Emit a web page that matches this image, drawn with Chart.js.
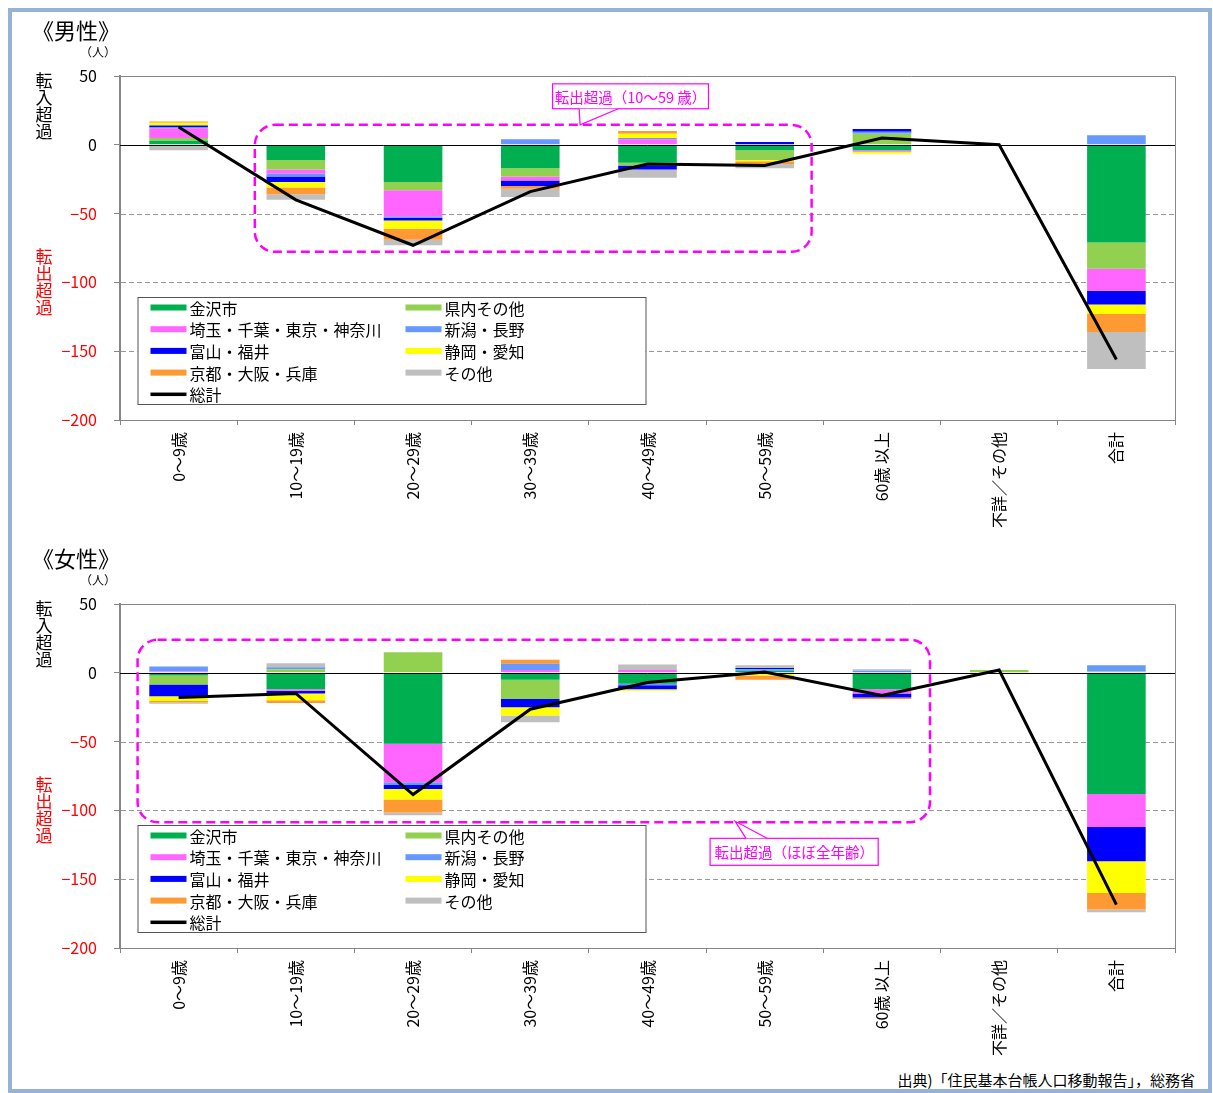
<!DOCTYPE html>
<html lang="ja">
<head>
<meta charset="utf-8">
<script src="https://cdn.jsdelivr.net/npm/chart.js@4/dist/chart.umd.min.js"></script>
<style>
  html, body { margin: 0; padding: 0; background: #fff; }
  body { width: 1213px; height: 1093px; position: relative; overflow: hidden;
         font-family: 'Noto Sans CJK JP', sans-serif; color: #000; }
  .frame { position: absolute; left: 8px; top: 8px; width: 1204px; height: 1085px;
           border: 4px solid #95B3D7; box-sizing: border-box; }
  .panel { position: absolute; left: 0; width: 1213px; height: 540px; }
  .title { position: absolute; left: 32px; font-size: 22px; line-height: 22px; white-space: nowrap; z-index: 2; }
  .unit { position: absolute; left: 80px; font-size: 12px; line-height: 12px; white-space: nowrap; z-index: 2; }
  .vt { position: absolute; left: 35px; width: 18px; font-size: 17px; line-height: 17px;
        text-align: center; z-index: 2; }
  .red { color: #FF0000; }
  .src { position: absolute; right: 18px; top: 1069px; font-size: 15px; white-space: nowrap; z-index: 2; }
</style>
</head>
<body>
<div class="frame"></div>

<div class="panel" style="top:0"><canvas id="male" width="1213" height="540"></canvas></div>
<div class="panel" style="top:528px"><canvas id="female" width="1213" height="540"></canvas></div>

<div class="title" style="top:18px">《男性》</div>
<div class="unit" style="top:46px">（人）</div>
<div class="vt" style="top:71px">転<br>入<br>超<br>過</div>
<div class="vt red" style="top:247px">転<br>出<br>超<br>過</div>

<div class="title" style="top:546px">《女性》</div>
<div class="unit" style="top:574px">（人）</div>
<div class="vt" style="top:599px">転<br>入<br>超<br>過</div>
<div class="vt red" style="top:775px">転<br>出<br>超<br>過</div>

<div class="src">出典)「住民基本台帳人口移動報告」，総務省</div>

<script>
// Age groups on the x axis
const categories = ['0〜9歳', '10〜19歳', '20〜29歳', '30〜39歳', '40〜49歳',
                    '50〜59歳', '60歳 以上', '不詳／その他', '合計'];

// Destination / origin groups (stack order) and their colours
const seriesNames = ['金沢市', '県内その他', '埼玉・千葉・東京・神奈川', '新潟・長野',
                     '富山・福井', '静岡・愛知', '京都・大阪・兵庫', 'その他'];
const seriesColors = ['#00B050', '#92D050', '#FF66FF', '#6699FF',
                      '#0000FF', '#FFFF00', '#FF9933', '#BFBFBF'];
const totalName = '総計';

// Value axis
const yMin = -200, yMax = 50, yStep = 50;
const dashedLevels = [-50, -100, -150];

// 男性 (persons)
const maleKanazawa = [3, -11, -27, -17, -13, -4, -4, 0, -71];
const maleKennai   = [2, -7, -6, -6, -2, -7, 8, 0, -19];
const maleShutoken = [7, -3, -19, -3, 4, 0, -1, 0, -16];
const maleNiigata  = [1, -2, -1, 4, 1, 0, 1.5, 0, 7];
const maleToyama   = [1, -4, -2, -4, -3, 2, 2, 0, -10];
const maleShizuoka = [2, -4, -6, 0, 3, -1, -1.5, 0, -7];
const maleKansai   = [1, -5, -8, -2, 2, -2, 0, 0, -13];
const maleOther    = [-4, -4, -4, -6, -6, -3, 0, 0, -27];
const maleTotal    = [13, -40, -73, -34, -14, -15, 5, 0, -156];

// 女性 (persons)
const femaleKanazawa = [-2, -12, -51.5, -5, -8, 1.5, -12, 0, -88];
const femaleKennai   = [-6.5, 2.5, 15, -14, 0, 0, 0, 2, 1];
const femaleShutoken = [1, -1, -28, 2, 2, 0, -3, 0, -24];
const femaleNiigata  = [3.5, 1.5, -2, 4.5, -1, 1, 1.5, 0, 4.5];
const femaleToyama   = [-8.5, -2, -3, -6, -3, 1, -3, 0, -25];
const femaleShizuoka = [-3.5, -5, -7.5, -6, -1, -2, 0, 0, -23];
const femaleKansai   = [-1, -2, -9.5, 3, 0, -3, -1, 0, -12];
const femaleOther    = [-1, 3, -2, -5, 4, 2, 1, 0, -2];
const femaleTotal    = [-18, -15, -88.5, -26.5, -7, 0.5, -16.5, 2, -168.5];

// Highlight frames and their callouts, in category-index / value units
const maleNote = {
  box: { x0: 0.65, x1: 5.40, y0: 14.5, y1: -77.8 },
  callout: { x0: 3.19, x1: 4.52, y0: 44.3, y1: 26.2, text: '転出超過（10〜59 歳）',
             tip: [3.425, 14.5], base: [3.417, 3.75] }
};
const femaleNote = {
  box: { x0: -0.35, x1: 6.41, y0: 24, y1: -108.6 },
  callout: { x0: 4.534, x1: 5.968, y0: -120.3, y1: -139.9, text: '転出超過（ほぼ全年齢）',
             tip: [4.748, -107.9], base: [4.84, 5.02] }
};

const FONT = "'Noto Sans CJK JP', sans-serif";
const MAGENTA = '#FF00FF';
const AXIS_GRAY = '#868686';

const panelDecor = {
  id: 'panelDecor',
  beforeDatasetsDraw(chart, args, o) {
    const { ctx, chartArea: a, scales: { y } } = chart;
    ctx.save();
    ctx.strokeStyle = '#999999';
    ctx.lineWidth = 1;
    ctx.setLineDash([5, 3]);
    for (const v of dashedLevels) {
      const py = Math.round(y.getPixelForValue(v)) + 0.5;
      ctx.beginPath(); ctx.moveTo(a.left + 1, py); ctx.lineTo(a.right, py); ctx.stroke();
    }
    ctx.setLineDash([]);
    ctx.strokeStyle = AXIS_GRAY;
    ctx.beginPath();
    ctx.moveTo(a.left, a.top + 0.5);
    ctx.lineTo(a.right + 0.5, a.top + 0.5);
    ctx.lineTo(a.right + 0.5, a.bottom);
    ctx.stroke();
    ctx.restore();
  },
  beforeDatasetDraw(chart, args) {
    if (chart.data.datasets[args.index].type !== 'line') return;
    const { ctx, chartArea: a, scales: { y } } = chart;
    const py = Math.round(y.getPixelForValue(0)) + 0.5;
    ctx.save();
    ctx.strokeStyle = '#000';
    ctx.lineWidth = 1;
    ctx.beginPath(); ctx.moveTo(a.left, py); ctx.lineTo(a.right, py); ctx.stroke();
    ctx.restore();
  },
  afterDatasetsDraw(chart, args, o) {
    const { ctx, chartArea: a, scales: { x, y } } = chart;
    const note = o.note;
    ctx.save();

    // dashed highlight frame
    const bx0 = x.getPixelForValue(note.box.x0), bx1 = x.getPixelForValue(note.box.x1);
    const by0 = y.getPixelForValue(note.box.y0), by1 = y.getPixelForValue(note.box.y1);
    ctx.strokeStyle = MAGENTA;
    ctx.lineWidth = 2.5;
    ctx.setLineDash([9, 5]);
    ctx.beginPath();
    ctx.roundRect(bx0, by0, bx1 - bx0, by1 - by0, 20);
    ctx.stroke();
    ctx.setLineDash([]);

    // callout box with pointer
    const c = note.callout;
    const cx0 = x.getPixelForValue(c.x0), cx1 = x.getPixelForValue(c.x1);
    const cy0 = y.getPixelForValue(c.y0), cy1 = y.getPixelForValue(c.y1);
    const tx = x.getPixelForValue(c.tip[0]), ty = y.getPixelForValue(c.tip[1]);
    const p0 = x.getPixelForValue(c.base[0]), p1 = x.getPixelForValue(c.base[1]);
    const edgeY = ty > cy1 ? cy1 : cy0;
    ctx.lineWidth = 1.2;
    ctx.fillStyle = '#fff';
    ctx.strokeStyle = MAGENTA;
    ctx.fillRect(cx0, cy0, cx1 - cx0, cy1 - cy0);
    ctx.strokeRect(cx0, cy0, cx1 - cx0, cy1 - cy0);
    ctx.beginPath();
    ctx.moveTo(p0, edgeY); ctx.lineTo(tx, ty); ctx.lineTo(p1, edgeY); ctx.closePath();
    ctx.fill();
    ctx.beginPath();
    ctx.moveTo(p0, edgeY); ctx.lineTo(tx, ty); ctx.lineTo(p1, edgeY);
    ctx.stroke();
    ctx.fillStyle = MAGENTA;
    ctx.font = '14.5px ' + FONT;
    ctx.textAlign = 'center';
    ctx.textBaseline = 'middle';
    ctx.fillText(c.text, (cx0 + cx1) / 2, (cy0 + cy1) / 2 + 1);

    // legend box
    const lx = a.left + 17.5, ly = a.top + 221, lw = 508, lh = 107;
    ctx.fillStyle = '#fff';
    ctx.fillRect(lx, ly, lw, lh);
    ctx.strokeStyle = '#555';
    ctx.lineWidth = 1;
    ctx.strokeRect(lx + 0.5, ly + 0.5, lw, lh);
    ctx.textAlign = 'left';
    ctx.font = '16px ' + FONT;
    chart.data.datasets.forEach((ds, i) => {
      const col = i % 2, row = Math.floor(i / 2);
      const sx = lx + 13 + col * 255;
      const cy = ly + 10.5 + row * 21.7;
      if (ds.type === 'line') {
        ctx.fillStyle = ds.borderColor;
        ctx.fillRect(sx, cy - 1.75, 36, 3.5);
      } else {
        ctx.fillStyle = ds.backgroundColor;
        ctx.fillRect(sx, cy - 3, 36, 6);
      }
      ctx.fillStyle = '#000';
      ctx.fillText(ds.label, sx + 39, cy + 1);
    });
    ctx.restore();
  }
};

function makePanel(canvasId, rows, total, note) {
  const datasets = rows.map((data, i) => ({
    type: 'bar',
    label: seriesNames[i],
    data,
    backgroundColor: seriesColors[i],
    borderWidth: 0,
    stack: 'flows',
    order: 1,
    barPercentage: 0.5,
    categoryPercentage: 1.0
  }));
  datasets.push({
    type: 'line',
    label: totalName,
    data: total,
    borderColor: '#000000',
    backgroundColor: '#000000',
    borderWidth: 3,
    pointRadius: 0,
    tension: 0,
    fill: false,
    stack: 'total',
    order: 0
  });

  return new Chart(document.getElementById(canvasId), {
    type: 'bar',
    data: { labels: categories, datasets },
    plugins: [panelDecor],
    options: {
      responsive: false,
      animation: false,
      devicePixelRatio: 1,
      layout: { padding: { left: 0, top: 76, right: 38, bottom: 0 } },
      plugins: {
        legend: { display: false },
        tooltip: { enabled: false },
        panelDecor: { note }
      },
      scales: {
        x: {
          stacked: true,
          offset: true,
          grid: { display: true, drawOnChartArea: false, offset: true, tickLength: 5, color: AXIS_GRAY },
          border: { display: true, color: AXIS_GRAY, width: 1 },
          ticks: {
            autoSkip: false, minRotation: 90, maxRotation: 90, padding: 7,
            color: '#000', font: { family: FONT, size: 16 }
          },
          afterFit(scale) { scale.height = 120; }
        },
        y: {
          stacked: true,
          min: yMin, max: yMax,
          grid: { display: true, drawOnChartArea: false, tickLength: 6, color: AXIS_GRAY },
          border: { display: true, color: AXIS_GRAY, width: 2 },
          ticks: {
            stepSize: yStep, padding: 17,
            font: { family: FONT, size: 16 },
            color: (ctx) => (ctx.tick && ctx.tick.value < 0 ? '#FF0000' : '#000000'),
            callback: (v) => (v < 0 ? '−' + Math.abs(v) : String(v))
          },
          afterFit(scale) { scale.width = 120; }
        }
      }
    }
  });
}

makePanel('male',
  [maleKanazawa, maleKennai, maleShutoken, maleNiigata, maleToyama, maleShizuoka, maleKansai, maleOther],
  maleTotal, maleNote);
makePanel('female',
  [femaleKanazawa, femaleKennai, femaleShutoken, femaleNiigata, femaleToyama, femaleShizuoka, femaleKansai, femaleOther],
  femaleTotal, femaleNote);
</script>
</body>
</html>
